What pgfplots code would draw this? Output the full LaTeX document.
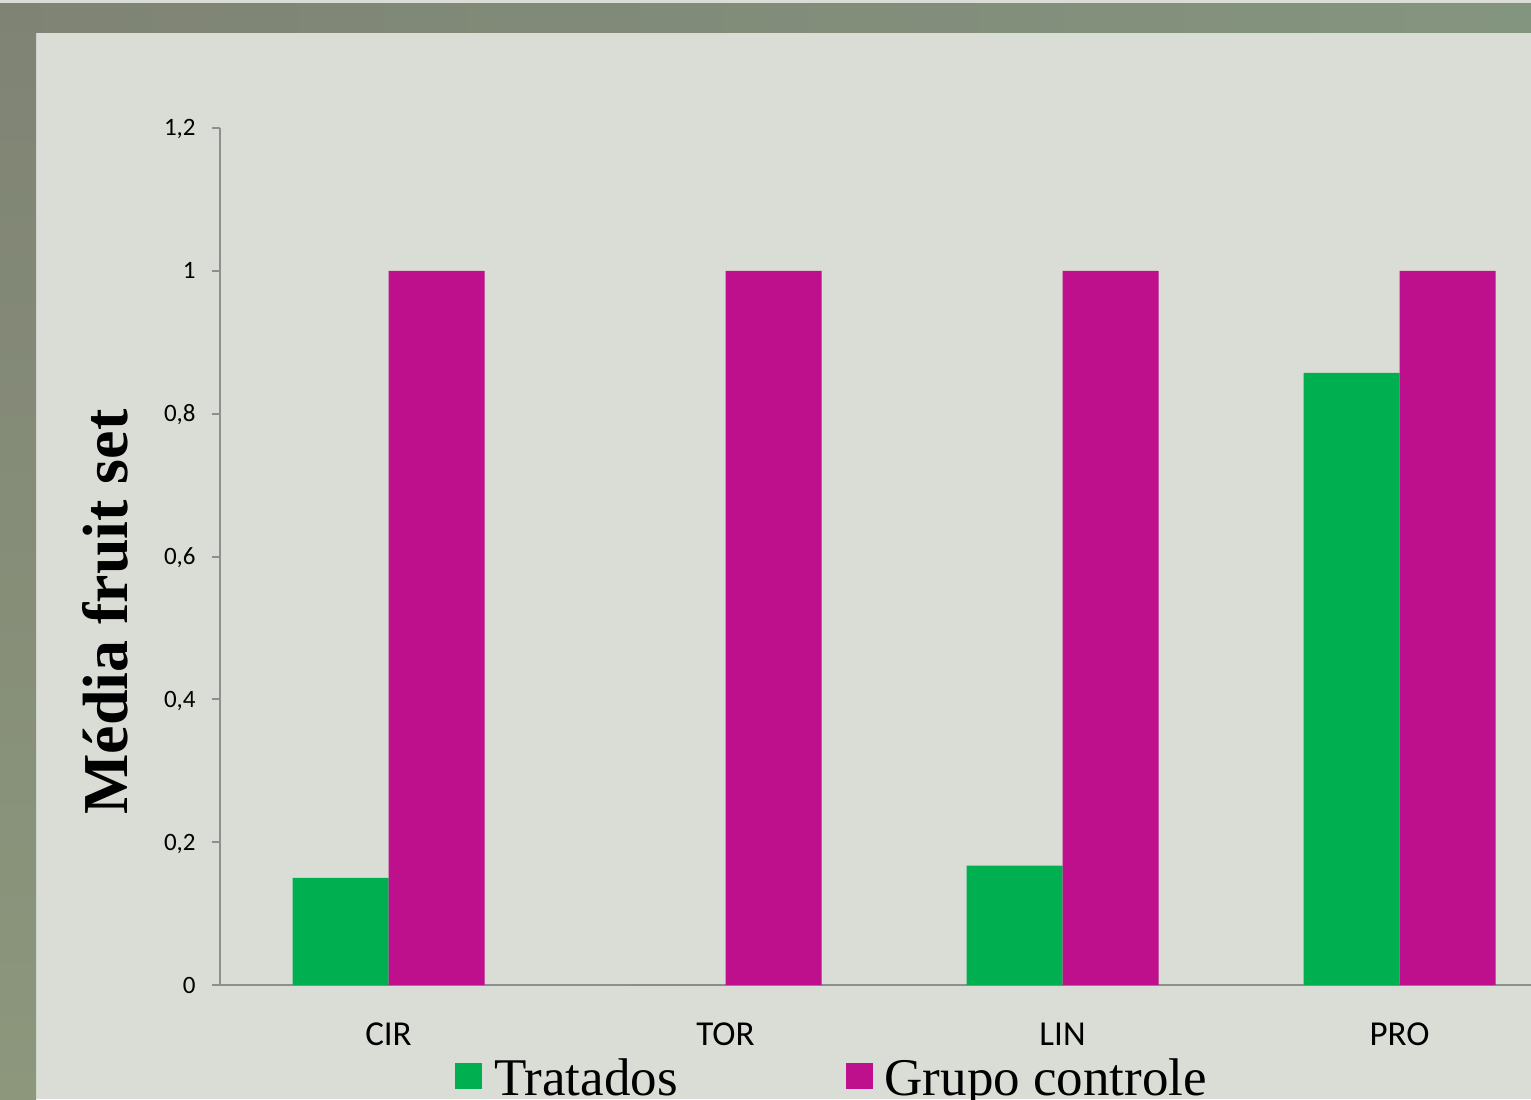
\documentclass[border=0pt]{standalone}
\usepackage{pgfplots}
\pgfplotsset{compat=1.18}
\usepackage{fontspec}
\setmainfont{Liberation Serif}
\newfontfamily\carlito{Carlito}
\definecolor{panel}{RGB}{218,221,214}
\definecolor{bandL}{RGB}{127,131,116}
\definecolor{bandR}{RGB}{132,149,127}
\definecolor{stripT}{RGB}{127,131,116}
\definecolor{stripB}{RGB}{140,151,124}
\definecolor{axgray}{RGB}{142,142,142}
\definecolor{trat}{RGB}{0,175,80}
\definecolor{ctrl}{RGB}{190,16,140}
\begin{document}
\begin{tikzpicture}
\useasboundingbox (0,0) rectangle (765.5pt,549.5pt);
\fill[panel] (0,0) rectangle (765.5pt,549.5pt);
\shade[left color=bandL, right color=bandR] (0,533pt) rectangle (765.5pt,547.5pt);
\shade[top color=stripT, bottom color=stripB] (0,0) rectangle (18pt,547.5pt);
\begin{axis}[
  at={(110pt,57pt)}, anchor=south west,
  scale only axis, width=655.5pt, height=428.5pt,
  xmin=-0.5, xmax=3.39, ymin=0, ymax=1.2,
  axis x line*=bottom, axis y line*=left,
  axis line style={draw=axgray, line width=1pt},
  ybar=0pt, bar width=48pt,
  xtick={0,1,2,3}, xticklabels={CIR,TOR,LIN,PRO},
  major x tick style={draw=none},
  ytick={0,0.2,0.4,0.6,0.8,1,1.2},
  tick align=outside, major tick length=4pt,
  y tick style={draw=axgray, line width=1pt},
  /pgf/number format/use comma,
  /pgf/number format/assume math mode=true,
  yticklabel style={font=\carlito\fontsize{12.5}{15}\selectfont, inner sep=0pt, anchor=base east, yshift=-4pt, xshift=-8pt},
  xticklabel style={font=\carlito\fontsize{17.5}{21}\selectfont, inner sep=0pt, anchor=base, yshift=-26pt},
  ylabel={Média fruit set},
  ylabel style={font=\bfseries\fontsize{32}{38}\selectfont, at={(axis description cs:-0.0877,0.435)}, anchor=center, inner sep=0pt},
  legend columns=2,
  legend style={at={(axis description cs:0.1793,-0.0863)}, anchor=north west, draw=none, fill=none,
    inner sep=0pt, outer sep=0pt, font=\fontsize{26.5}{30}\selectfont,
    cells={anchor=base west}, nodes={inner sep=0pt},
    /tikz/every odd column/.append style={column sep=6pt},
    /tikz/every even column/.append style={column sep=84pt}},
  legend image code/.code={\fill[#1] (0pt,3.5pt) rectangle (13.5pt,16.5pt);},
]
\addplot[fill=trat, draw=none] coordinates {(0,0.15) (1,0) (2,0.167) (3,0.857)};
\addplot[fill=ctrl, draw=none] coordinates {(0,1) (1,1) (2,1) (3,1)};
\legend{Tratados, Grupo controle}
\end{axis}
\end{tikzpicture}
\end{document}
